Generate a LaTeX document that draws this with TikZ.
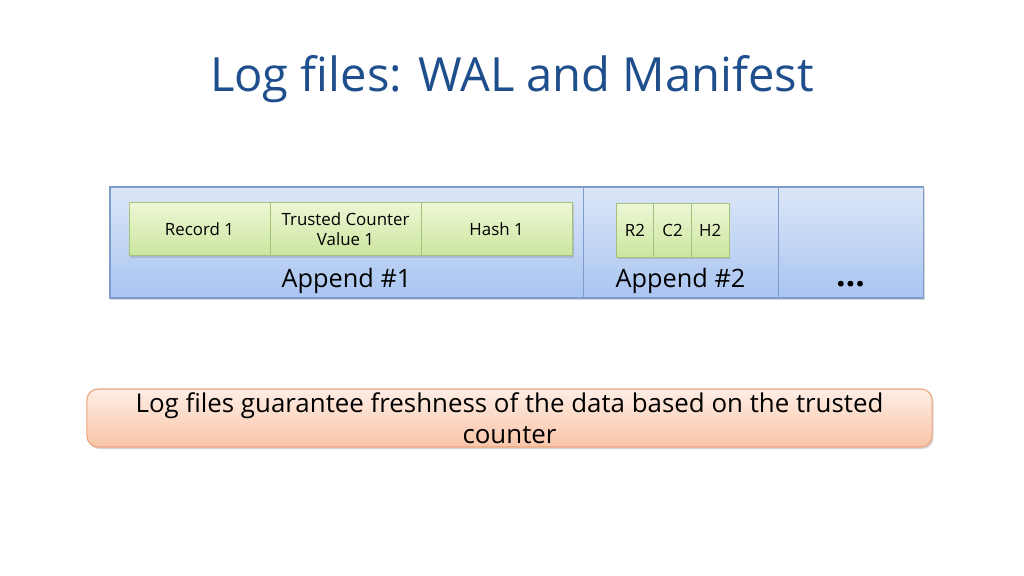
\documentclass[tikz,border=0pt]{standalone}
\usepackage{fontspec}
\setmainfont{Open Sans}
\usetikzlibrary{positioning,shadows}
\definecolor{titleblue} {HTML}{1F4E8C}
\definecolor{appendtop} {HTML}{DCE6F8}
\definecolor{appendbot} {HTML}{A9C5F1}
\definecolor{appendline}{HTML}{7E9DCF}
\definecolor{fieldtop}  {HTML}{EEF7D6}
\definecolor{fieldbot}  {HTML}{CBE69E}
\definecolor{fieldline} {HTML}{A5C27A}
\definecolor{notetop}   {HTML}{FEEDE4}
\definecolor{notebot}   {HTML}{FAC5A8}
\definecolor{noteline}  {HTML}{EDA57C}

\begin{document}
\begin{tikzpicture}[x=0.025cm, y=-0.025cm,
    softshadow/.style={drop shadow={opacity=0.3, shadow xshift=1pt, shadow yshift=-1.5pt}},
    appendbox/.style={draw=appendline, line width=0.8pt, top color=appendtop,
      bottom color=appendbot, outer sep=0pt, inner sep=0pt,
      minimum height=2.775cm, softshadow},
    fieldbox/.style={draw=fieldline, line width=0.6pt, top color=fieldtop,
      bottom color=fieldbot, outer sep=0pt, inner sep=0pt, align=center,
      font=\fontsize{12}{14.5}\selectfont, softshadow},
    applabel/.style={anchor=base, inner sep=0pt, font=\fontsize{18}{22}\selectfont}]
  \useasboundingbox[fill=white] (0,0) rectangle (1024,575);

  % title
  \node[anchor=base, inner sep=0pt, text=titleblue, font=\fontsize{33.5}{40}\selectfont]
    (title) at (512,91) {Log files: WAL and Manifest};

  % the appends
  \node[appendbox, minimum width=11.825cm] (a1) at (346.5,242.5) {};
  \node[appendbox, minimum width=4.875cm, right=0pt of a1] (a2) {};
  \node[appendbox, minimum width=3.625cm, right=0pt of a2] (a3) {};

  \node[fieldbox, minimum width=3.525cm, minimum height=1.325cm] (rec1) at (199.5,229) {Record 1};
  \node[fieldbox, minimum width=3.775cm, minimum height=1.325cm, right=0pt of rec1] (cnt1)
    {Trusted Counter\\Value 1};
  \node[fieldbox, minimum width=3.775cm, minimum height=1.325cm, right=0pt of cnt1] (hash1) {Hash 1};

  \node[fieldbox, minimum width=0.94cm, minimum height=1.35cm] (rec2) at (635,230) {R2};
  \node[fieldbox, minimum width=0.94cm, minimum height=1.35cm, right=0pt of rec2] (cnt2) {C2};
  \node[fieldbox, minimum width=0.94cm, minimum height=1.35cm, right=0pt of cnt2] (hash2) {H2};

  \node[applabel] (lab1) at (346.5,287) {Append \#1};
  \node[applabel] (lab2) at (680.5,287) {Append \#2};
  \node[applabel, font=\fontsize{24}{28}\selectfont\bfseries] (lab3) at (850.5,286) {…};

  % note
  \node[draw=noteline, line width=0.8pt, top color=notetop, bottom color=notebot,
    rounded corners=8pt, minimum width=21.125cm, minimum height=1.45cm, inner sep=0pt,
    align=center, font=\fontsize{18.4}{22}\selectfont, softshadow]
    (note) at (509.5,418)
    {Log files guarantee freshness of the data based on the trusted\\counter};
\end{tikzpicture}
\end{document}
